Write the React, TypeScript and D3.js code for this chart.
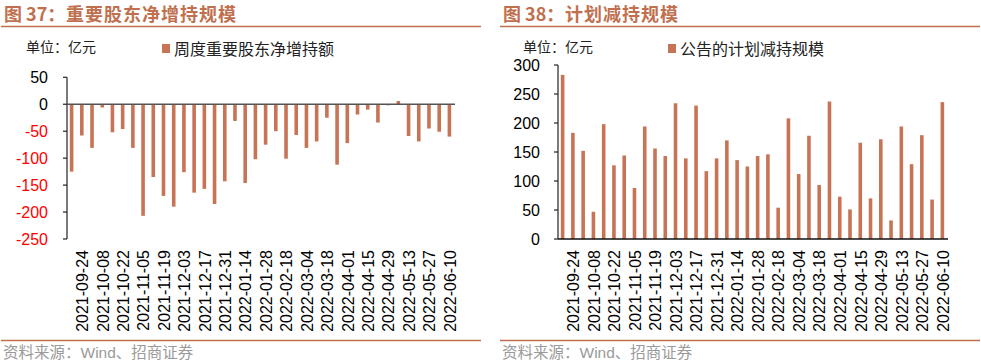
import React from "react";
import * as d3 from "d3";

const dates = [
  "2021-09-17","2021-09-24","2021-10-01","2021-10-08","2021-10-15","2021-10-22","2021-10-29",
  "2021-11-05","2021-11-12","2021-11-19","2021-11-26","2021-12-03","2021-12-10","2021-12-17",
  "2021-12-24","2021-12-31","2022-01-07","2022-01-14","2022-01-21","2022-01-28","2022-02-11",
  "2022-02-18","2022-02-25","2022-03-04","2022-03-11","2022-03-18","2022-03-25","2022-04-01",
  "2022-04-08","2022-04-15","2022-04-22","2022-04-29","2022-05-06","2022-05-13","2022-05-20",
  "2022-05-27","2022-06-03","2022-06-10",
];

const netIncrease = [
  -125, -58, -81, -6, -52, -46, -81, -207, -135, -170, -190, -126, -164, -157, -185, -143, -31, -146, -102,
  -75, -50, -101, -57, -81, -69, -25, -112, -72, -19, -10, -34, -2, 6, -59, -69, -45, -51, -60,
];

const plannedReduction = [
  283, 183, 152, 47, 198, 127, 144, 88, 194, 156, 143, 234, 139, 230, 117, 139, 170, 136, 125, 143,
  146, 54, 208, 112, 178, 93, 237, 73, 51, 166, 70, 172, 32, 194, 129, 179, 68, 236,
];

const leftTicks = [50, 0, -50, -100, -150, -200, -250];
const rightTicks = [0, 50, 100, 150, 200, 250, 300];

const BAR = "#C77456";
const TITLE = "#C0704E";
const LATIN = "'Liberation Sans', Arial, 'Noto Sans CJK SC', sans-serif";
const CJK = "'Noto Sans CJK SC', 'Liberation Sans', sans-serif";

type PanelProps = {
  ox: number;
  figNo: string;
  title: string;
  legend: string;
  values: number[];
  ticks: number[];
  domain: [number, number];
  yTop: number;
  yBottom: number;
  axisX: number;
  axisRight: number;
  labelRight: number;
  legendX: number;
  unitX: number;
  negRed: boolean;
  zeroLine: boolean;
};

function Panel(p: PanelProps) {
  const x = d3.scaleBand<string>().domain(dates).range([p.axisX, p.axisRight]);
  const y = d3.scaleLinear().domain(p.domain).range([p.yBottom, p.yTop]);
  const bw = 3.6;
  const y0 = y(0);
  return (
    <g>
      {/* title */}
      <text x={p.ox + 4} y={21} fontFamily={CJK} fontWeight="bold" fontSize={18} fill={TITLE}>
        {p.figNo}
      </text>
      <text x={p.ox + 66} y={21} fontFamily={CJK} fontWeight="bold" fontSize={18} letterSpacing={1} fill={TITLE}>
        {p.title}
      </text>
      <line x1={p.ox + 1} x2={p.ox + 481} y1={26.5} y2={26.5} stroke={TITLE} strokeWidth={1.5} />

      {/* unit and legend */}
      <text x={p.unitX} y={52} fontFamily={CJK} fontSize={14} fill="#222">单位：亿元</text>
      <rect x={p.legendX} y={44} width={8} height={9} fill={BAR} />
      <text x={p.legendX + 12} y={55} fontFamily={CJK} fontSize={16} fill="#222">{p.legend}</text>

      {/* bars */}
      {p.values.map((v, i) => {
        const cx = (x(dates[i]) as number) + x.bandwidth() / 2 - 0.5;
        const top = Math.min(y(v), y0);
        const h = Math.abs(y(v) - y0);
        return <rect key={i} x={cx - bw / 2} y={top} width={bw} height={h} fill={BAR} />;
      })}

      {/* y axis */}
      <line x1={p.axisX} x2={p.axisX} y1={p.yTop} y2={p.yBottom} stroke="#222" strokeWidth={1.2} />
      {p.ticks.map((t) => (
        <g key={t}>
          <line x1={p.axisX - 4} x2={p.axisX} y1={y(t)} y2={y(t)} stroke="#222" strokeWidth={1.2} />
          <text
            x={p.labelRight}
            y={y(t)}
            dy="0.36em"
            textAnchor="end"
            fontFamily={LATIN}
            fontSize={16}
            fill={p.negRed && t < 0 ? "#FF0000" : "#000"}
          >
            {t}
          </text>
        </g>
      ))}

      {/* zero / bottom axis line */}
      <line
        x1={p.axisX}
        x2={p.axisRight}
        y1={y0}
        y2={y0}
        stroke={p.zeroLine ? "#555" : "#111"}
        strokeWidth={p.zeroLine ? 1.6 : 1.4}
      />

      {/* x labels */}
      {dates.map((d, i) =>
        i % 2 === 1 ? (
          <text
            key={d}
            transform={`translate(${(x(d) as number) + x.bandwidth() / 2},250) rotate(-90)`}
            dy="0.36em"
            textAnchor="end"
            fontFamily={LATIN}
            fontSize={16}
            fill="#000"
          >
            {d}
          </text>
        ) : null
      )}

      {/* footer */}
      <line x1={p.ox + 1} x2={p.ox + 481} y1={340.5} y2={340.5} stroke={TITLE} strokeWidth={1.5} />
      <text x={p.ox + 3} y={358} fontFamily={LATIN} fontSize={15.5} fill="#9a9a9a">资料来源：Wind、招商证券</text>
    </g>
  );
}

export default function App() {
  return (
    <div style={{ position: "absolute", left: 0, top: 0, width: 981, height: 361, background: "#fff" }}>
      <svg width={981} height={361} viewBox="0 0 981 361" style={{ display: "block" }}>
        <rect x={0} y={0} width={981} height={361} fill="#fff" />
        <Panel
          ox={0}
          figNo="图 37："
          title="重要股东净增持规模"
          legend="周度重要股东净增持额"
          values={netIncrease}
          ticks={leftTicks}
          domain={[-250, 50]}
          yTop={77.3}
          yBottom={239}
          axisX={67}
          axisRight={455}
          labelRight={48}
          legendX={162}
          unitX={26}
          negRed={true}
          zeroLine={true}
        />
        <Panel
          ox={499}
          figNo="图 38："
          title="计划减持规模"
          legend="公告的计划减持规模"
          values={plannedReduction}
          ticks={rightTicks}
          domain={[0, 300]}
          yTop={65}
          yBottom={239}
          axisX={558}
          axisRight={948}
          labelRight={540}
          legendX={668}
          unitX={523}
          negRed={false}
          zeroLine={false}
        />
      </svg>
    </div>
  );
}
